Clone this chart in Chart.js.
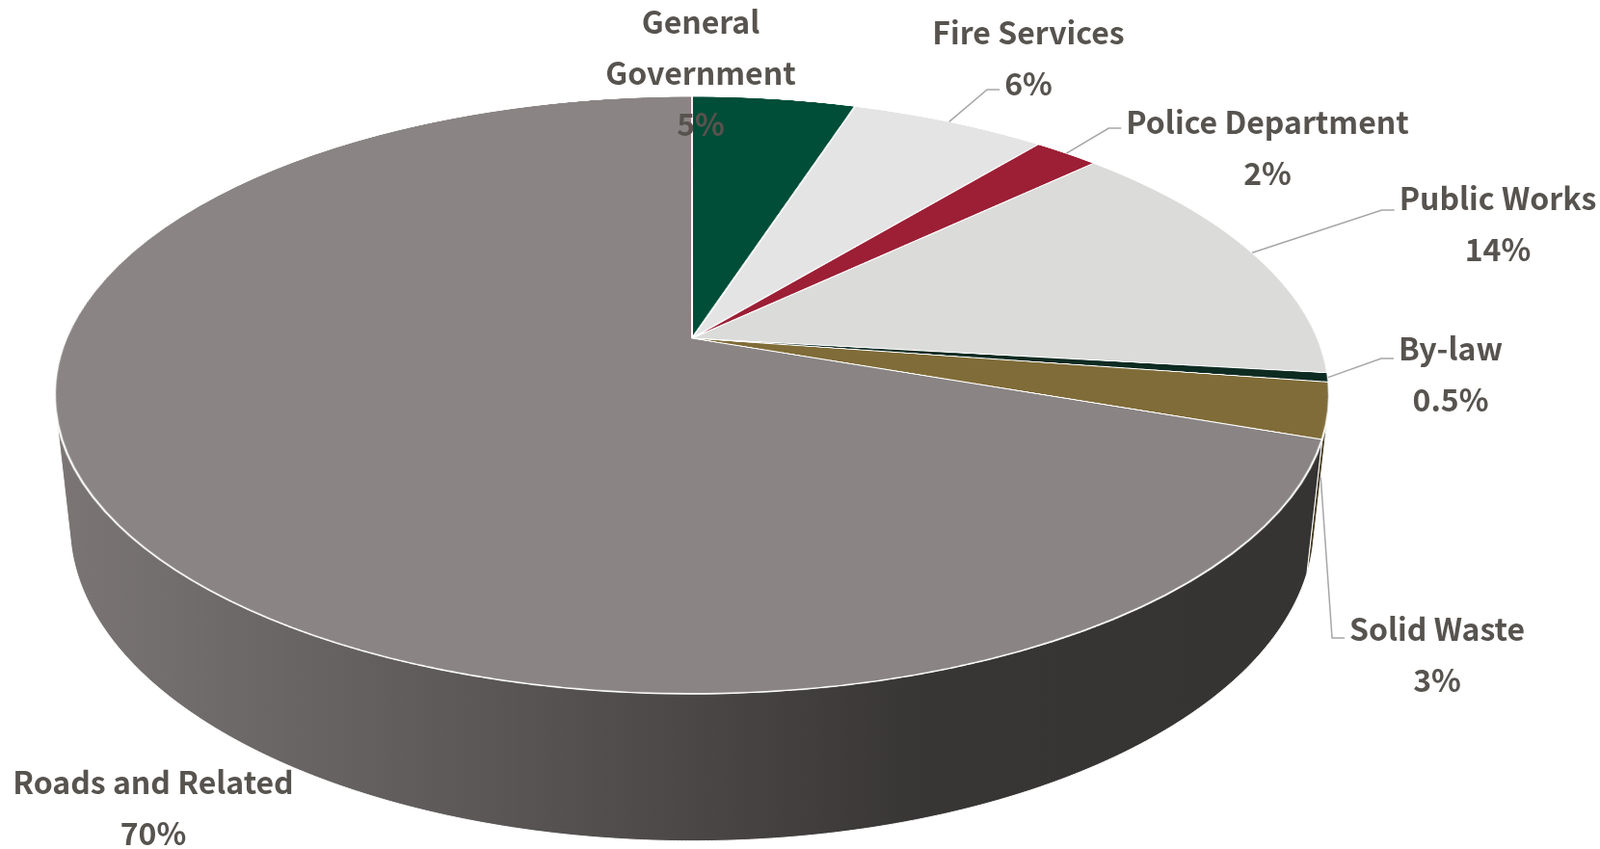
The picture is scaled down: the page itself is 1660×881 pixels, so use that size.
<!DOCTYPE html>
<html>
<head>
<meta charset="utf-8">
<script src="https://cdn.jsdelivr.net/npm/chart.js@4/dist/chart.umd.min.js"></script>
<style>
  html, body { margin: 0; padding: 0; background: #fff; }
  #wrap { position: relative; width: 1660px; height: 881px; overflow: hidden; }
  #wrap canvas { position: absolute; left: 0; top: 0; }
</style>
</head>
<body>
<div id="wrap">
  <canvas id="sides" width="1660" height="881"></canvas>
  <canvas id="pieChart" width="1320" height="1320"></canvas>
  <canvas id="labels" width="1660" height="881"></canvas>
</div>
<script>
// data
const categories = ['General Government', 'Fire Services', 'Police Department', 'Public Works', 'By-law', 'Solid Waste', 'Roads and Related'];
const shares = [5, 6, 2, 14, 0.5, 3, 70];
const shareLabels = ['5%', '6%', '2%', '14%', '0.5%', '3%', '70%'];

// colours of the top face and of the side wall
const topColors = ['#004D38', '#E4E4E4', '#9C1F35', '#DBDBDA', '#0E2B22', '#806C38', '#8A8584'];
const sideColors = ['#003326', '#BDBDBD', '#6E1625', '#B3B3B2', '#081A14', '#4A3F24', null];

// how the flat pie is tilted on screen (pie centre, radius, tilt, perspective, thickness)
const view = { cx: 718, cy: 351, R: 649, tilt: 62.6 * Math.PI / 180, persp: 3027, depth: 153 };

// tilt the chart canvas with css so the pie lies back like a disc
const pieCanvas = document.getElementById('pieChart');
const half = pieCanvas.width / 2;
pieCanvas.style.left = (view.cx - half) + 'px';
pieCanvas.style.top = (view.cy - half) + 'px';
pieCanvas.style.transformOrigin = half + 'px ' + half + 'px';
pieCanvas.style.transform = 'perspective(' + view.persp + 'px) rotateX(' + (view.tilt * 180 / Math.PI) + 'deg)';

// same projection in js, for the rim of the disc
function rimPoint(phi, down) {
  const x = view.R * Math.cos(phi), y = view.R * Math.sin(phi);
  const c = Math.cos(view.tilt), s = Math.sin(view.tilt);
  const y3 = y * c + down * s, z3 = y * s - down * c;
  const f = view.persp / (view.persp - z3);
  return [view.cx + x * f, view.cy + y3 * f];
}

const pie3d = {
  id: 'pie3d',
  afterDraw(chart, args, o) {
    const arcs = chart.getDatasetMeta(0).data;

    // side wall
    const sctx = document.getElementById('sides').getContext('2d');
    const phi0 = Math.asin(view.R / (view.persp * Math.sin(view.tilt)));
    arcs.forEach((arc, i) => {
      const a0 = Math.max(arc.startAngle, phi0);
      const a1 = Math.min(arc.endAngle, Math.PI - phi0);
      if (a1 <= a0) return;
      let fill = sideColors[i];
      if (!fill) {
        fill = sctx.createLinearGradient(56, 0, 1378, 0);
        fill.addColorStop(0, '#7B7675');
        fill.addColorStop(0.35, '#5A5656');
        fill.addColorStop(0.68, '#383535');
        fill.addColorStop(1, '#363333');
      }
      const n = Math.max(2, Math.ceil((a1 - a0) / 0.005));
      sctx.beginPath();
      for (let k = 0; k <= n; k++) {
        const p = rimPoint(a0 + (a1 - a0) * k / n, 0);
        k === 0 ? sctx.moveTo(p[0], p[1]) : sctx.lineTo(p[0], p[1]);
      }
      for (let k = n; k >= 0; k--) {
        const p = rimPoint(a0 + (a1 - a0) * k / n, view.depth);
        sctx.lineTo(p[0], p[1]);
      }
      sctx.closePath();
      sctx.fillStyle = fill;
      sctx.fill();
      sctx.strokeStyle = '#ffffff';
      sctx.lineWidth = 1;
      sctx.stroke();
    });

    // labels and leader lines
    const ctx = document.getElementById('labels').getContext('2d');
    ctx.font = o.font;
    ctx.textAlign = 'center';
    ctx.textBaseline = 'middle';
    o.layout.forEach((L, i) => {
      const lines = (L.wrap ? categories[i].split(' ') : [categories[i]]).concat(shareLabels[i]);
      ctx.fillStyle = o.color;
      lines.forEach((t, j) => ctx.fillText(t, L.x, L.y + j * o.lineHeight));
      if (L.leader == null) return;
      const mid = (arcs[i].startAngle + arcs[i].endAngle) / 2;
      const s = rimPoint(mid, (L.side || 0) * view.depth);
      const w = ctx.measureText(lines[L.leader]).width;
      const ex = L.x - w / 2 - 5;
      const ey = L.y + L.leader * o.lineHeight + (L.dy || 6);
      ctx.beginPath();
      ctx.moveTo(s[0], s[1]);
      ctx.lineTo(ex - 13, ey);
      ctx.lineTo(ex, ey);
      ctx.strokeStyle = '#A6A6A6';
      ctx.lineWidth = 1.5;
      ctx.stroke();
    });
  }
};

function draw() {
  new Chart(pieCanvas.getContext('2d'), {
    type: 'pie',
    data: {
      labels: categories,
      datasets: [{
        data: shares,
        backgroundColor: topColors,
        borderColor: '#ffffff',
        borderWidth: 2,
        clip: false
      }]
    },
    options: {
      responsive: false,
      animation: false,
      events: [],
      radius: view.R,
      plugins: {
        legend: { display: false },
        tooltip: { enabled: false },
        pie3d: {
          font: 'bold 32px "Noto Sans CJK JP", "Noto Sans", sans-serif',
          color: '#57534F',
          lineHeight: 53,
          layout: [
            { x: 727, y: 23, wrap: true },
            { x: 1067, y: 34, leader: 1 },
            { x: 1315, y: 127, leader: 0 },
            { x: 1554, y: 206, leader: 0, dy: 12 },
            { x: 1505, y: 362, leader: 0, dy: 10 },
            { x: 1491, y: 653, leader: 0, dy: 9, side: 0.5 },
            { x: 159, y: 812 }
          ]
        }
      }
    },
    plugins: [pie3d]
  });
}

document.fonts.load('bold 32px "Noto Sans CJK JP"').then(draw, draw);
</script>
</body>
</html>
